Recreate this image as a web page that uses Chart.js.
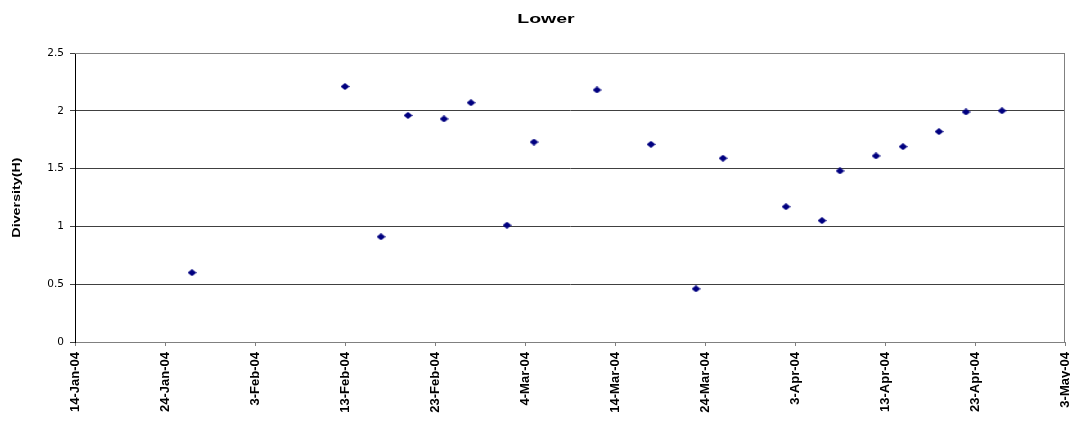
<!DOCTYPE html>
<html>
<head>
<meta charset="utf-8">
<script src="https://cdn.jsdelivr.net/npm/chart.js@4/dist/chart.umd.min.js"></script>
<style>
html,body{margin:0;padding:0;background:#fff;}
#wrap{width:1070px;height:421px;}
canvas{display:block;}
</style>
</head>
<body>
<div id="wrap"><canvas id="c" width="1070" height="421"></canvas></div>
<script>
const chartTitle = 'Lower';
const yAxisTitle = 'Diversity(H)';
const sampleDates = ['27-Jan-04','13-Feb-04','17-Feb-04','20-Feb-04','24-Feb-04','27-Feb-04','2-Mar-04','5-Mar-04','12-Mar-04','18-Mar-04','23-Mar-04','26-Mar-04','2-Apr-04','6-Apr-04','8-Apr-04','12-Apr-04','15-Apr-04','19-Apr-04','22-Apr-04','26-Apr-04'];
const diversityValues = [0.60,2.21,0.91,1.96,1.93,2.07,1.01,1.73,2.18,1.71,0.46,1.59,1.17,1.05,1.48,1.61,1.69,1.82,1.99,2.00];
const xTickLabels = ['14-Jan-04','24-Jan-04','3-Feb-04','13-Feb-04','23-Feb-04','4-Mar-04','14-Mar-04','24-Mar-04','3-Apr-04','13-Apr-04','23-Apr-04','3-May-04'];
const yTickValues = [0,0.5,1,1.5,2,2.5];

const MONTHS = ['Jan','Feb','Mar','Apr','May','Jun','Jul','Aug','Sep','Oct','Nov','Dec'];
function dayNum(s){
  const p = s.split('-');
  return Date.UTC(2000 + Number(p[2]), MONTHS.indexOf(p[1]), Number(p[0])) / 864e5;
}
function fmtDay(n){
  const dt = new Date(Math.round(n) * 864e5);
  return dt.getUTCDate() + '-' + MONTHS[dt.getUTCMonth()] + '-' + String(dt.getUTCFullYear() % 100).padStart(2,'0');
}

// diamond marker
const mk = document.createElement('canvas');
mk.width = 9; mk.height = 7;
(function(){
  const g = mk.getContext('2d');
  g.fillStyle = '#000080';
  g.beginPath();
  g.moveTo(0,3.5); g.lineTo(4.5,0); g.lineTo(9,3.5); g.lineTo(4.5,7);
  g.closePath(); g.fill();
})();

const FONT = '"Liberation Sans", Arial, sans-serif';

const framePlugin = {
  id: 'frame',
  beforeDatasetsDraw(chart){
    const a = chart.chartArea, ctx = chart.ctx;
    ctx.save();
    ctx.strokeStyle = '#808080';
    ctx.lineWidth = 1;
    ctx.beginPath();
    ctx.moveTo(a.left, Math.round(a.top) + 0.5);
    ctx.lineTo(a.right, Math.round(a.top) + 0.5);
    ctx.moveTo(Math.round(a.right) - 0.5, a.top);
    ctx.lineTo(Math.round(a.right) - 0.5, a.bottom);
    ctx.stroke();
    ctx.restore();
  },
  afterDraw(chart){
    const ctx = chart.ctx;
    ctx.save();
    ctx.fillStyle = '#000';
    ctx.font = 'bold 13px ' + FONT;
    ctx.textAlign = 'center';
    ctx.textBaseline = 'alphabetic';
    ctx.translate(546, 23);
    ctx.scale(1.5, 1);
    ctx.fillText(chartTitle, 0, 0);
    ctx.restore();

    const a = chart.chartArea;
    ctx.save();
    ctx.fillStyle = '#000';
    ctx.font = 'bold 11px ' + FONT;
    ctx.textAlign = 'center';
    ctx.textBaseline = 'middle';
    ctx.translate(17, (a.top + a.bottom) / 2);
    ctx.rotate(-Math.PI / 2);
    ctx.scale(1.3, 1);
    ctx.fillText(yAxisTitle, 0, 0);
    ctx.restore();
  }
};

new Chart(document.getElementById('c'), {
  type: 'scatter',
  data: {
    datasets: [{
      label: chartTitle,
      data: sampleDates.map((d, i) => ({x: dayNum(d), y: diversityValues[i]})),
      pointStyle: mk,
      pointRadius: 4,
      backgroundColor: '#000080',
      borderColor: '#000080',
      showLine: false
    }]
  },
  options: {
    responsive: false,
    animation: false,
    devicePixelRatio: 1,
    layout: {padding: {top: 53, left: 0, right: 1, bottom: 0}},
    plugins: {
      legend: {display: false},
      tooltip: {enabled: false},
      title: {display: false}
    },
    scales: {
      x: {
        type: 'linear',
        min: dayNum(xTickLabels[0]),
        max: dayNum(xTickLabels[xTickLabels.length - 1]),
        afterBuildTicks(s){ s.ticks = xTickLabels.map(l => ({value: dayNum(l)})); },
        afterFit(s){ s.height = 79; s.paddingLeft = 0; s.paddingRight = 0; },
        ticks: {
          autoSkip: false,
          minRotation: 90,
          maxRotation: 90,
          padding: 6,
          color: '#000',
          font: {family: FONT, size: 13, weight: 'bold'},
          callback: v => fmtDay(v)
        },
        grid: {drawOnChartArea: false, tickLength: 4, color: '#808080'},
        border: {color: '#808080'}
      },
      y: {
        min: yTickValues[0],
        max: yTickValues[yTickValues.length - 1],
        afterBuildTicks(s){ s.ticks = yTickValues.map(v => ({value: v})); },
        afterFit(s){ s.width = 75; s.paddingTop = 0; s.paddingBottom = 0; },
        ticks: {
          padding: 6,
          color: '#000',
          font: {family: '"DejaVu Sans", sans-serif', size: 10.5},
          callback: v => String(v)
        },
        grid: {color: '#404040', tickLength: 5},
        border: {color: '#000'}
      }
    }
  },
  plugins: [framePlugin]
});
</script>
</body>
</html>
